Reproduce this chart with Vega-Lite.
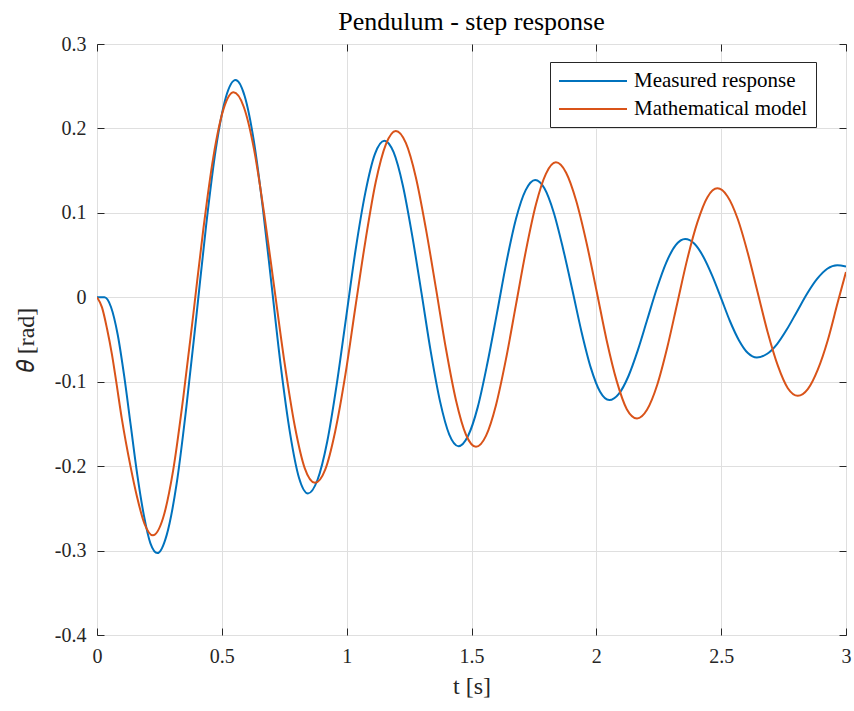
{
 "$schema": "https://vega.github.io/schema/vega-lite/v6.json",
 "width": 749, "height": 591,
 "autosize": {"type": "none"},
 "padding": {"left": 97, "top": 44, "right": 8, "bottom": 76},
 "background": "white",
 "title": {"text": "Pendulum - step response", "fontSize": 26, "font": "Liberation Serif", "fontWeight": "normal", "color": "#000000", "offset": -1},
 "data": {"values": [
  {"t":0,"v":0,"s":"Measured response"},
  {"t":0.015,"v":0,"s":"Measured response"},
  {"t":0.03,"v":0,"s":"Measured response"},
  {"t":0.056,"v":-0.0115,"s":"Measured response"},
  {"t":0.083,"v":-0.0444,"s":"Measured response"},
  {"t":0.109,"v":-0.0935,"s":"Measured response"},
  {"t":0.135,"v":-0.1515,"s":"Measured response"},
  {"t":0.161,"v":-0.2095,"s":"Measured response"},
  {"t":0.188,"v":-0.2586,"s":"Measured response"},
  {"t":0.214,"v":-0.2915,"s":"Measured response"},
  {"t":0.242,"v":-0.303,"s":"Measured response"},
  {"t":0.279,"v":-0.2817,"s":"Measured response"},
  {"t":0.319,"v":-0.2208,"s":"Measured response"},
  {"t":0.358,"v":-0.1299,"s":"Measured response"},
  {"t":0.398,"v":-0.0225,"s":"Measured response"},
  {"t":0.437,"v":0.0849,"s":"Measured response"},
  {"t":0.476,"v":0.1758,"s":"Measured response"},
  {"t":0.516,"v":0.2367,"s":"Measured response"},
  {"t":0.555,"v":0.2573,"s":"Measured response"},
  {"t":0.591,"v":0.2387,"s":"Measured response"},
  {"t":0.628,"v":0.1856,"s":"Measured response"},
  {"t":0.664,"v":0.1063,"s":"Measured response"},
  {"t":0.7,"v":0.0125,"s":"Measured response"},
  {"t":0.736,"v":-0.0813,"s":"Measured response"},
  {"t":0.773,"v":-0.1606,"s":"Measured response"},
  {"t":0.809,"v":-0.2137,"s":"Measured response"},
  {"t":0.845,"v":-0.2323,"s":"Measured response"},
  {"t":0.883,"v":-0.2164,"s":"Measured response"},
  {"t":0.922,"v":-0.1711,"s":"Measured response"},
  {"t":0.96,"v":-0.1034,"s":"Measured response"},
  {"t":0.998,"v":-0.0234,"s":"Measured response"},
  {"t":1.036,"v":0.0566,"s":"Measured response"},
  {"t":1.075,"v":0.1243,"s":"Measured response"},
  {"t":1.113,"v":0.1696,"s":"Measured response"},
  {"t":1.151,"v":0.1855,"s":"Measured response"},
  {"t":1.188,"v":0.1718,"s":"Measured response"},
  {"t":1.225,"v":0.1325,"s":"Measured response"},
  {"t":1.262,"v":0.0739,"s":"Measured response"},
  {"t":1.3,"v":0.0046,"s":"Measured response"},
  {"t":1.337,"v":-0.0647,"s":"Measured response"},
  {"t":1.374,"v":-0.1233,"s":"Measured response"},
  {"t":1.411,"v":-0.1626,"s":"Measured response"},
  {"t":1.448,"v":-0.1763,"s":"Measured response"},
  {"t":1.486,"v":-0.1643,"s":"Measured response"},
  {"t":1.525,"v":-0.1301,"s":"Measured response"},
  {"t":1.563,"v":-0.0791,"s":"Measured response"},
  {"t":1.602,"v":-0.0187,"s":"Measured response"},
  {"t":1.64,"v":0.0417,"s":"Measured response"},
  {"t":1.678,"v":0.0927,"s":"Measured response"},
  {"t":1.717,"v":0.1269,"s":"Measured response"},
  {"t":1.755,"v":0.1389,"s":"Measured response"},
  {"t":1.792,"v":0.1291,"s":"Measured response"},
  {"t":1.829,"v":0.1008,"s":"Measured response"},
  {"t":1.866,"v":0.0585,"s":"Measured response"},
  {"t":1.904,"v":0.0086,"s":"Measured response"},
  {"t":1.941,"v":-0.0413,"s":"Measured response"},
  {"t":1.978,"v":-0.0836,"s":"Measured response"},
  {"t":2.015,"v":-0.1119,"s":"Measured response"},
  {"t":2.052,"v":-0.1218,"s":"Measured response"},
  {"t":2.09,"v":-0.1145,"s":"Measured response"},
  {"t":2.128,"v":-0.0938,"s":"Measured response"},
  {"t":2.166,"v":-0.0629,"s":"Measured response"},
  {"t":2.204,"v":-0.0264,"s":"Measured response"},
  {"t":2.242,"v":0.0101,"s":"Measured response"},
  {"t":2.28,"v":0.0411,"s":"Measured response"},
  {"t":2.318,"v":0.0618,"s":"Measured response"},
  {"t":2.356,"v":0.069,"s":"Measured response"},
  {"t":2.392,"v":0.0637,"s":"Measured response"},
  {"t":2.428,"v":0.0484,"s":"Measured response"},
  {"t":2.464,"v":0.0257,"s":"Measured response"},
  {"t":2.5,"v":-0.0012,"s":"Measured response"},
  {"t":2.535,"v":-0.0281,"s":"Measured response"},
  {"t":2.571,"v":-0.0508,"s":"Measured response"},
  {"t":2.607,"v":-0.0661,"s":"Measured response"},
  {"t":2.643,"v":-0.0714,"s":"Measured response"},
  {"t":2.683,"v":-0.0672,"s":"Measured response"},
  {"t":2.724,"v":-0.0554,"s":"Measured response"},
  {"t":2.764,"v":-0.0376,"s":"Measured response"},
  {"t":2.804,"v":-0.0167,"s":"Measured response"},
  {"t":2.844,"v":0.0042,"s":"Measured response"},
  {"t":2.885,"v":0.022,"s":"Measured response"},
  {"t":2.925,"v":0.0338,"s":"Measured response"},
  {"t":2.965,"v":0.038,"s":"Measured response"},
  {"t":3.0,"v":0.0365,"s":"Measured response"},
  {"t":0,"v":0,"s":"Mathematical model"},
  {"t":0.02,"v":-0.012,"s":"Mathematical model"},
  {"t":0.04,"v":-0.037,"s":"Mathematical model"},
  {"t":0.06,"v":-0.068,"s":"Mathematical model"},
  {"t":0.077,"v":-0.1,"s":"Mathematical model"},
  {"t":0.1,"v":-0.145,"s":"Mathematical model"},
  {"t":0.134,"v":-0.2,"s":"Mathematical model"},
  {"t":0.16,"v":-0.236,"s":"Mathematical model"},
  {"t":0.19,"v":-0.268,"s":"Mathematical model"},
  {"t":0.224,"v":-0.282,"s":"Mathematical model"},
  {"t":0.264,"v":-0.2621,"s":"Mathematical model"},
  {"t":0.305,"v":-0.2051,"s":"Mathematical model"},
  {"t":0.345,"v":-0.12,"s":"Mathematical model"},
  {"t":0.386,"v":-0.0195,"s":"Mathematical model"},
  {"t":0.426,"v":0.081,"s":"Mathematical model"},
  {"t":0.466,"v":0.1661,"s":"Mathematical model"},
  {"t":0.507,"v":0.2231,"s":"Mathematical model"},
  {"t":0.547,"v":0.2428,"s":"Mathematical model"},
  {"t":0.588,"v":0.2254,"s":"Mathematical model"},
  {"t":0.629,"v":0.1752,"s":"Mathematical model"},
  {"t":0.669,"v":0.1002,"s":"Mathematical model"},
  {"t":0.71,"v":0.0115,"s":"Mathematical model"},
  {"t":0.751,"v":-0.0772,"s":"Mathematical model"},
  {"t":0.792,"v":-0.1522,"s":"Mathematical model"},
  {"t":0.832,"v":-0.2024,"s":"Mathematical model"},
  {"t":0.873,"v":-0.2198,"s":"Mathematical model"},
  {"t":0.914,"v":-0.2042,"s":"Mathematical model"},
  {"t":0.954,"v":-0.1589,"s":"Mathematical model"},
  {"t":0.995,"v":-0.0914,"s":"Mathematical model"},
  {"t":1.035,"v":-0.0115,"s":"Mathematical model"},
  {"t":1.076,"v":0.0684,"s":"Mathematical model"},
  {"t":1.116,"v":0.1359,"s":"Mathematical model"},
  {"t":1.157,"v":0.1812,"s":"Mathematical model"},
  {"t":1.197,"v":0.197,"s":"Mathematical model"},
  {"t":1.237,"v":0.1828,"s":"Mathematical model"},
  {"t":1.277,"v":0.1422,"s":"Mathematical model"},
  {"t":1.317,"v":0.0816,"s":"Mathematical model"},
  {"t":1.358,"v":0.01,"s":"Mathematical model"},
  {"t":1.398,"v":-0.0616,"s":"Mathematical model"},
  {"t":1.438,"v":-0.1222,"s":"Mathematical model"},
  {"t":1.478,"v":-0.1628,"s":"Mathematical model"},
  {"t":1.518,"v":-0.1771,"s":"Mathematical model"},
  {"t":1.558,"v":-0.1642,"s":"Mathematical model"},
  {"t":1.598,"v":-0.1278,"s":"Mathematical model"},
  {"t":1.638,"v":-0.0733,"s":"Mathematical model"},
  {"t":1.678,"v":-0.009,"s":"Mathematical model"},
  {"t":1.718,"v":0.0553,"s":"Mathematical model"},
  {"t":1.758,"v":0.1098,"s":"Mathematical model"},
  {"t":1.798,"v":0.1462,"s":"Mathematical model"},
  {"t":1.838,"v":0.1598,"s":"Mathematical model"},
  {"t":1.879,"v":0.1475,"s":"Mathematical model"},
  {"t":1.919,"v":0.1146,"s":"Mathematical model"},
  {"t":1.96,"v":0.0655,"s":"Mathematical model"},
  {"t":2.001,"v":0.0075,"s":"Mathematical model"},
  {"t":2.041,"v":-0.0505,"s":"Mathematical model"},
  {"t":2.082,"v":-0.0996,"s":"Mathematical model"},
  {"t":2.122,"v":-0.1325,"s":"Mathematical model"},
  {"t":2.163,"v":-0.1435,"s":"Mathematical model"},
  {"t":2.203,"v":-0.1332,"s":"Mathematical model"},
  {"t":2.244,"v":-0.1036,"s":"Mathematical model"},
  {"t":2.284,"v":-0.0595,"s":"Mathematical model"},
  {"t":2.324,"v":-0.0073,"s":"Mathematical model"},
  {"t":2.364,"v":0.0449,"s":"Mathematical model"},
  {"t":2.405,"v":0.089,"s":"Mathematical model"},
  {"t":2.445,"v":0.1186,"s":"Mathematical model"},
  {"t":2.485,"v":0.129,"s":"Mathematical model"},
  {"t":2.525,"v":0.1197,"s":"Mathematical model"},
  {"t":2.566,"v":0.093,"s":"Mathematical model"},
  {"t":2.606,"v":0.0531,"s":"Mathematical model"},
  {"t":2.646,"v":0.006,"s":"Mathematical model"},
  {"t":2.686,"v":-0.0411,"s":"Mathematical model"},
  {"t":2.727,"v":-0.081,"s":"Mathematical model"},
  {"t":2.767,"v":-0.1077,"s":"Mathematical model"},
  {"t":2.807,"v":-0.1167,"s":"Mathematical model"},
  {"t":2.847,"v":-0.1088,"s":"Mathematical model"},
  {"t":2.887,"v":-0.0857,"s":"Mathematical model"},
  {"t":2.927,"v":-0.0508,"s":"Mathematical model"},
  {"t":2.967,"v":-0.006,"s":"Mathematical model"},
  {"t":3.0,"v":0.03,"s":"Mathematical model"}
 ]},
 "layer": [
  {
   "mark": {"type": "line", "strokeWidth": 2, "interpolate": "monotone", "clip": true},
   "encoding": {
    "x": {"field": "t", "type": "quantitative",
      "scale": {"domain": [0, 3], "nice": false, "zero": false},
      "axis": {"values": [0, 0.5, 1, 1.5, 2, 2.5, 3], "title": "t [s]", "grid": true,
        "labelExpr": "replace(format(datum.value, '.1~f'), '−', '-')",
        "labelPadding": 18, "titlePadding": 8}},
    "y": {"field": "v", "type": "quantitative",
      "scale": {"domain": [-0.4, 0.3], "nice": false, "zero": false},
      "axis": {"values": [-0.4, -0.3, -0.2, -0.1, 0, 0.1, 0.2, 0.3], "title": "𝜃 [rad]", "grid": true,
        "labelExpr": "replace(format(datum.value, '.1~f'), '−', '-')",
        "labelPadding": 18, "titlePadding": 16}},
    "color": {"field": "s", "type": "nominal",
      "scale": {"domain": ["Measured response", "Mathematical model"], "range": ["#0072BD", "#D95319"]},
      "legend": {"title": null, "orient": "none", "legendX": 453, "legendY": 18, "direction": "vertical",
        "symbolType": "M-1,0H5.8", "symbolSize": 400, "symbolStrokeWidth": 2,
        "labelFontSize": 21, "labelFont": "Liberation Serif", "labelColor": "#000000", "labelLimit": 400,
        "strokeColor": "#262626", "fillColor": "white", "padding": 8, "rowPadding": 7, "labelOffset": 54}}
   }
  },
  {
   "mark": {"type": "point", "opacity": 0},
   "encoding": {
    "x": {"field": "t", "type": "quantitative",
      "axis": {"orient": "top", "values": [0, 0.5, 1, 1.5, 2, 2.5, 3], "labels": false, "title": null, "grid": false}},
    "y": {"field": "v", "type": "quantitative",
      "axis": {"orient": "right", "values": [-0.4, -0.3, -0.2, -0.1, 0, 0.1, 0.2, 0.3], "labels": false, "title": null, "grid": false}}
   }
  }
 ],
 "resolve": {"axis": {"x": "independent", "y": "independent"}},
 "config": {
  "font": "Liberation Serif",
  "view": {"stroke": "#262626", "strokeWidth": 1},
  "axis": {
   "labelFont": "Liberation Serif", "labelFontSize": 20, "labelColor": "#262626",
   "titleFont": "Liberation Serif", "titleFontSize": 24, "titleFontWeight": "normal", "titleColor": "#262626",
   "domain": false, "tickColor": "#262626", "tickSize": -7, "tickWidth": 1,
   "gridColor": "#dfdfdf", "gridWidth": 1, "labelFlush": false, "labelOverlap": false
  }
 }
}
